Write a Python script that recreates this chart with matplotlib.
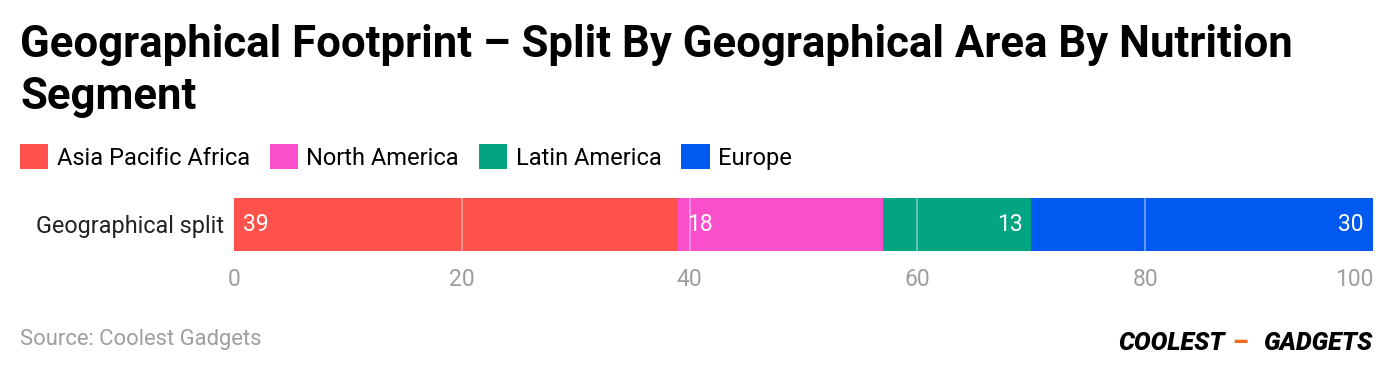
import matplotlib.pyplot as plt

categories = ["Geographical split"]
regions = ["Asia Pacific Africa", "North America", "Latin America", "Europe"]
values = [39, 18, 13, 30]
colors = ["#FF524C", "#FA4FCB", "#02A482", "#005AEF"]
label_align = ["left", "left", "right", "right"]
x_ticks = [0, 20, 40, 60, 80, 100]

plt.rcParams['font.family'] = ['Roboto', 'DejaVu Sans']

fig = plt.figure(figsize=(13.96, 3.76), dpi=100)
ax = fig.add_axes([234 / 1396, 1 - 251 / 376, (1373 - 234) / 1396, 53 / 376])

left = 0
for region, v, c, al in zip(regions, values, colors, label_align):
    ax.barh(0, v, left=left, height=1.0, color=c, label=region, zorder=2)
    if al == "left":
        ax.text(left + 0.8, 0, str(v), color="white", fontsize=16.5, va="center", ha="left", zorder=4)
    else:
        ax.text(left + v - 0.8, 0, str(v), color="white", fontsize=16.5, va="center", ha="right", zorder=4)
    left += v

ax.set_xlim(0, 100)
ax.set_ylim(-0.5, 0.5)
ax.set_xticks(x_ticks)
ax.set_xticklabels([str(t) for t in x_ticks], color="#9E9E9E", fontsize=16.5)
ax.get_xticklabels()[-1].set_horizontalalignment("right")
ax.set_yticks([0])
ax.set_yticklabels(categories, fontsize=16.8, color="#222222")
ax.tick_params(axis="both", length=0, pad=12)
ax.tick_params(axis="y", pad=7)
for t in x_ticks[1:-1]:
    ax.axvline(t, color="white", alpha=0.45, lw=1.2, zorder=3)
for s in ax.spines.values():
    s.set_visible(False)

fig.text(20 / 1396, 1 - 45 / 376, "Geographical Footprint – Split By Geographical Area By Nutrition",
         fontsize=31.5, fontweight="bold", va="center", ha="left")
fig.text(20 / 1396, 1 - 97 / 376, "Segment", fontsize=31.5, fontweight="bold", va="center", ha="left")

handles, labels = ax.get_legend_handles_labels()
fig.legend(handles, labels, loc="center left", bbox_to_anchor=(20 / 1396, 1 - 157 / 376), ncol=4,
           frameon=False, fontsize=17, handlelength=1.2, handleheight=1.2, handletextpad=0.35,
           columnspacing=0.85, borderaxespad=0, borderpad=0)

fig.text(20 / 1396, 1 - 340 / 376, "Source: Coolest Gadgets", fontsize=15.8, color="#9E9E9E",
         va="center", ha="left")
fig.text(1118 / 1396, 1 - 343 / 376, "COOLEST", fontsize=18, fontweight="heavy", style="italic",
         va="center", ha="left", color="black")
fig.text(1240 / 1396, 1 - 343 / 376, "–", fontsize=18, fontweight="heavy", color="#F26B21",
         va="center", ha="center")
fig.text(1372 / 1396, 1 - 343 / 376, "GADGETS", fontsize=18, fontweight="heavy", style="italic",
         va="center", ha="right", color="black")

fig.savefig("out.png", dpi=100)
